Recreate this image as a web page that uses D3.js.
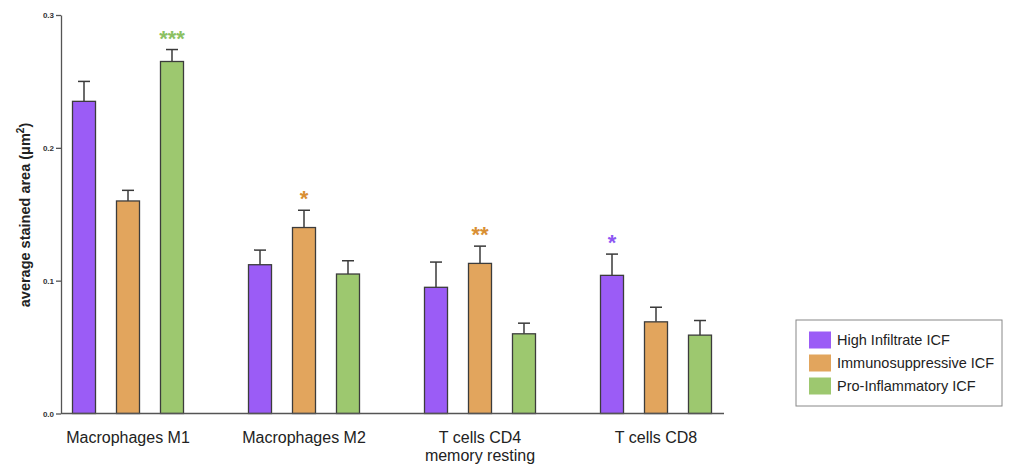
<!DOCTYPE html>
<html><head><meta charset="utf-8">
<script src="https://cdn.jsdelivr.net/npm/d3@7"></script>
<style>body{margin:0;background:#fff}svg{display:block}text{font-family:"Liberation Sans",Arial,sans-serif}</style>
</head><body><svg id="c" width="1022" height="471"></svg>
<script>
const categories = ["Macrophages M1", "Macrophages M2", "T cells CD4|memory resting", "T cells CD8"];
const seriesNames = ["High Infiltrate ICF", "Immunosuppressive ICF", "Pro-Inflammatory ICF"];
const highValues = [0.235, 0.112, 0.095, 0.104];
const highErr = [0.015, 0.011, 0.019, 0.016];
const immunoValues = [0.160, 0.140, 0.113, 0.069];
const immunoErr = [0.008, 0.013, 0.013, 0.011];
const proValues = [0.265, 0.105, 0.060, 0.059];
const proErr = [0.009, 0.010, 0.008, 0.011];
const yTicks = [0.0, 0.1, 0.2, 0.3];
const stars = [
  {cat: 0, series: 2, label: "***"},
  {cat: 1, series: 1, label: "*"},
  {cat: 2, series: 1, label: "**"},
  {cat: 3, series: 0, label: "*"}
];
const colors = ["#9b5cf6", "#e2a55d", "#9dc86f"];
const starColors = ["#8d57f2", "#d98f33", "#8cc163"];

const values = [highValues, immunoValues, proValues];
const errs = [highErr, immunoErr, proErr];

const svg = d3.select("#c");
const y = d3.scaleLinear().domain([0, 0.3]).range([413.5, 15]);
const x0 = d3.scaleBand().domain(d3.range(categories.length)).range([40, 744]).padding(0);
const x1 = d3.scaleBand().domain(d3.range(seriesNames.length)).range([22, 154]).paddingInner(0.477).paddingOuter(0.2386);

const data = [];
categories.forEach((c, i) => seriesNames.forEach((s, j) => data.push({i, j, v: values[j][i], e: errs[j][i]})));

// error bars (behind bars)
const eg = svg.append("g").attr("stroke", "#3a3a3a").attr("stroke-width", 1.5);
data.forEach(d => {
  const cx = x0(d.i) + x1(d.j) + x1.bandwidth() / 2;
  eg.append("line").attr("x1", cx).attr("x2", cx).attr("y1", y(d.v)).attr("y2", y(d.v + d.e));
  eg.append("line").attr("x1", cx - 6).attr("x2", cx + 6).attr("y1", y(d.v + d.e)).attr("y2", y(d.v + d.e));
});

// bars
svg.append("g").selectAll("rect").data(data).join("rect")
  .attr("x", d => x0(d.i) + x1(d.j))
  .attr("width", x1.bandwidth())
  .attr("y", d => y(d.v))
  .attr("height", d => y(0) - y(d.v))
  .attr("fill", d => colors[d.j])
  .attr("stroke", "#3c3c3c").attr("stroke-width", 1.3);

// stars
stars.forEach(s => {
  const cx = x0(s.cat) + x1(s.series) + x1.bandwidth() / 2;
  const top = y(values[s.series][s.cat] + errs[s.series][s.cat]);
  svg.append("text").attr("x", cx).attr("y", top - 4).attr("text-anchor", "middle")
    .attr("font-size", 22).attr("font-weight", "bold").attr("fill", starColors[s.series])
    .text(s.label);
});

// y axis
const yAxis = svg.append("g").attr("transform", "translate(61,0)")
  .call(d3.axisLeft(y).tickValues(yTicks).tickFormat(d3.format(".1f")).tickSize(5).tickSizeOuter(0));
yAxis.select(".domain").attr("stroke", "#555").attr("stroke-width", 1.3);
yAxis.selectAll(".tick line").attr("stroke", "#555").attr("stroke-width", 1.3);
yAxis.selectAll(".tick text").attr("font-size", 8).attr("font-weight", "bold").attr("fill", "#333")
  .attr("font-family", "Liberation Sans, Arial, sans-serif").attr("x", -7);

// x axis line
svg.append("line").attr("x1", 61).attr("x2", 724).attr("y1", y(0)).attr("y2", y(0))
  .attr("stroke", "#555").attr("stroke-width", 1.3);

// x labels
categories.forEach((c, i) => {
  const t = svg.append("text").attr("x", x0(i) + x0.bandwidth() / 2).attr("y", 443)
    .attr("text-anchor", "middle").attr("font-size", 16).attr("fill", "#222");
  c.split("|").forEach((line, k) => t.append("tspan").attr("x", x0(i) + x0.bandwidth() / 2).attr("dy", k ? 18 : 0).text(line));
});

// y label
const yl = svg.append("text").attr("transform", "translate(30,215) rotate(-90)").attr("text-anchor", "middle")
  .attr("font-size", 14.5).attr("font-weight", "bold").attr("fill", "#222");
yl.append("tspan").text("average stained area (");
yl.append("tspan").text("\u03bcm");
yl.append("tspan").attr("font-size", 10).attr("dy", -6).text("2");
yl.append("tspan").attr("dy", 6).text(")");

// legend
const lg = svg.append("g");
lg.append("rect").attr("x", 796).attr("y", 320).attr("width", 206).attr("height", 86)
  .attr("fill", "#fff").attr("stroke", "#888").attr("stroke-width", 1);
seriesNames.forEach((s, j) => {
  const cy = 340 + j * 23;
  lg.append("rect").attr("x", 809).attr("y", cy - 8.5).attr("width", 22).attr("height", 17).attr("fill", colors[j]);
  lg.append("text").attr("x", 837).attr("y", cy + 5).attr("font-size", 14.5).attr("fill", "#222").text(s);
});
</script></body></html>
